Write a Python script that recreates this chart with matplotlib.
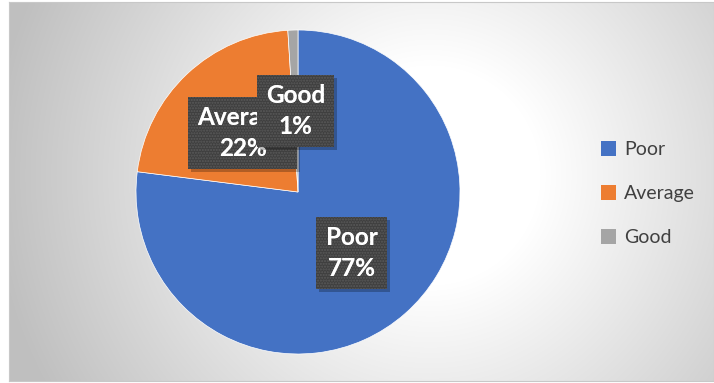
import numpy as np
import matplotlib
matplotlib.use("Agg")
import matplotlib.pyplot as plt
from matplotlib.patches import Rectangle
import matplotlib.transforms as mtransforms

categories = ["Poor", "Average", "Good"]
shares = [77, 22, 1]
colors = ["#4472C4", "#ED7D31", "#A5A5A5"]

W, H = 714, 383
fig = plt.figure(figsize=(W / 100, H / 100), dpi=100)
fig.patch.set_facecolor("white")

# chart area with a soft radial gradient
bg = fig.add_axes([9 / W, 2 / H, (W - 9) / W, (H - 4) / H])
yy, xx = np.mgrid[0:H - 4, 0:W - 9]
d = np.hypot(xx + 9 - 430, yy + 2 - 175)
t = np.clip((d - 110) / 330, 0, 1)
shade = 1 - 0.25 * t
bg.imshow(np.dstack([shade] * 3), aspect="auto", extent=(0, 1, 0, 1))
bg.set_xticks([])
bg.set_yticks([])
for s in bg.spines.values():
    s.set_color("#c8c8c8")
    s.set_linewidth(0.8)

ax = fig.add_axes([136 / W, 29 / H, 324 / W, 324 / H])
wedges, _ = ax.pie(shares, colors=colors, startangle=90, counterclock=False,
                   wedgeprops=dict(edgecolor="white", linewidth=0.5))
ax.set_xlim(-1, 1)
ax.set_ylim(-1, 1)
ax.set_aspect("equal")

font = ["Lato", "DejaVu Sans"]
fs = 17.5
lsp = 1.4
pad = "square,pad=0.38"
shadow = mtransforms.offset_copy(ax.transData, fig=fig, x=3, y=-3, units="dots")
for w, name, val in zip(wedges, categories, shares):
    mid = np.deg2rad((w.theta1 + w.theta2) / 2)
    x, y = 0.5 * np.cos(mid), 0.5 * np.sin(mid)
    txt = f"{name}\n{val}%"
    z = 5 if name != "Good" else 8
    ax.text(x, y, txt, transform=shadow, ha="center", va="center", fontsize=fs,
            fontweight="bold", family=font, color=(0, 0, 0, 0), linespacing=lsp,
            bbox=dict(boxstyle=pad, facecolor="black", alpha=0.25,
                      edgecolor="none"), zorder=z)
    ax.text(x, y, txt, ha="center", va="center", fontsize=fs, fontweight="bold",
            family=font, color="white", linespacing=lsp, zorder=z + 1,
            bbox=dict(boxstyle=pad, facecolor="#3f3f3f", edgecolor="none"))
    # dotted texture over the label box
    ax.text(x, y, txt, ha="center", va="center", fontsize=fs, fontweight="bold",
            family=font, color="white", linespacing=lsp, zorder=z + 2,
            bbox=dict(boxstyle=pad, facecolor="none",
                      edgecolor="#5a5a5a", linewidth=0, hatch="......"))

handles = [Rectangle((0, 0), 1, 1, facecolor=c) for c in colors]
leg = fig.legend(handles, categories, loc="center left", bbox_to_anchor=(583 / W, 0.494),
                 frameon=False, handlelength=0.8, handleheight=0.8, handletextpad=0.4,
                 labelspacing=1.38, prop=dict(family=font, size=14))
for t_ in leg.get_texts():
    t_.set_color("#404040")

fig.savefig("out.png", dpi=100)
